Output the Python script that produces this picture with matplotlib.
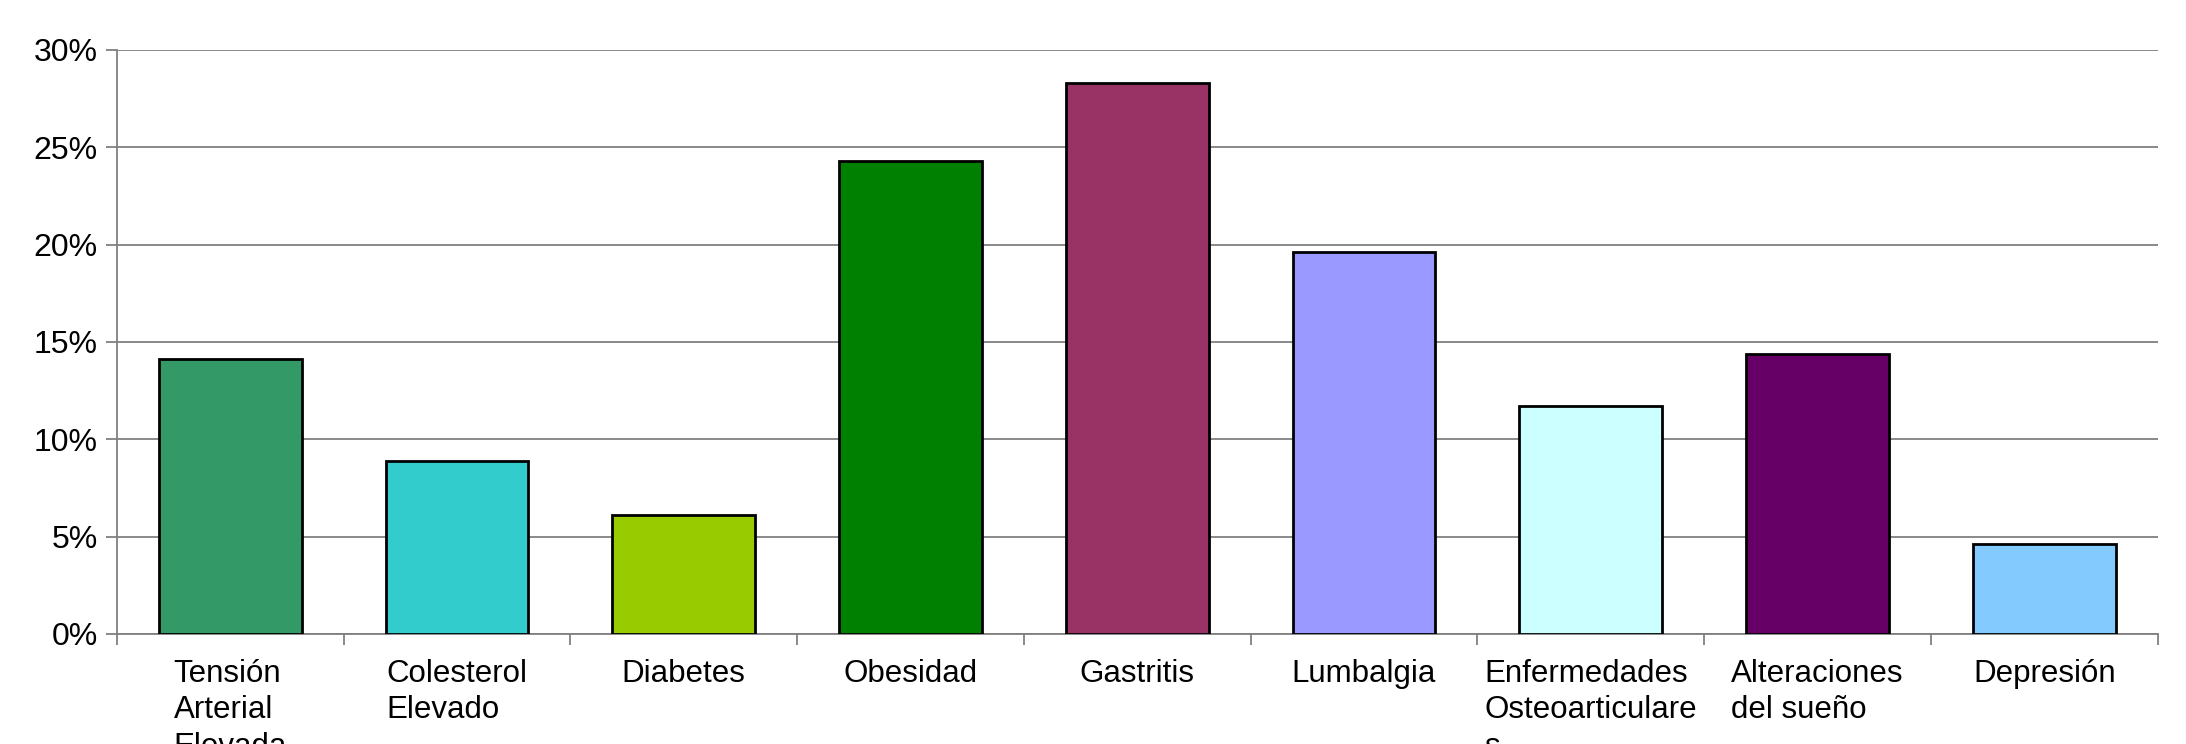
import matplotlib.pyplot as plt
from matplotlib.ticker import FuncFormatter, FixedLocator

categorias = ['Tensión\nArterial\nElevada', 'Colesterol\nElevado', 'Diabetes', 'Obesidad',
              'Gastritis', 'Lumbalgia', 'Enfermedades\nOsteoarticulare\ns',
              'Alteraciones\ndel sueño', 'Depresión']
valores = [14.1, 8.9, 6.1, 24.3, 28.3, 19.6, 11.7, 14.4, 4.6]
colores = ['#339966', '#33CCCC', '#99CC00', '#008000', '#993366',
           '#9999FF', '#CCFFFF', '#660066', '#83CAFF']
y_ticks = [0, 5, 10, 15, 20, 25, 30]

fig = plt.figure(figsize=(21.86, 7.44), dpi=100)
ax = fig.add_axes([0.0535, 0.148, 0.9335, 0.785])

x = list(range(len(valores)))
ax.bar(x, valores, width=0.63, color=colores, edgecolor='black', linewidth=2, zorder=3)

ax.set_xlim(-0.5, len(valores) - 0.5)
ax.set_ylim(0, 30)
ax.set_yticks(y_ticks)
ax.yaxis.set_major_formatter(FuncFormatter(lambda v, p: '%d%%' % v))
ax.grid(axis='y', color='#808080', linewidth=1.3, zorder=0)

# ticks between categories, labels at the centres
ax.xaxis.set_major_locator(FixedLocator([i - 0.5 for i in range(len(valores) + 1)]))
ax.xaxis.set_major_formatter(FuncFormatter(lambda v, p: ''))
ax.xaxis.set_minor_locator(FixedLocator(x))
ax.set_xticklabels(categorias, minor=True, family='Liberation Sans',
                   fontsize=22.5, multialignment='left', linespacing=1.28)
ax.tick_params(axis='x', which='major', length=8, width=1.3, color='#808080')
ax.tick_params(axis='x', which='minor', length=0, pad=18)
ax.tick_params(axis='y', length=8, width=1.3, color='#808080', pad=6)
for lab in ax.get_yticklabels():
    lab.set_family('Liberation Sans')
    lab.set_fontsize(23)

for s in ['top', 'right']:
    ax.spines[s].set_visible(False)
for s in ['left', 'bottom']:
    ax.spines[s].set_color('#808080')
    ax.spines[s].set_linewidth(1.3)

fig.savefig('out.png', dpi=100)
